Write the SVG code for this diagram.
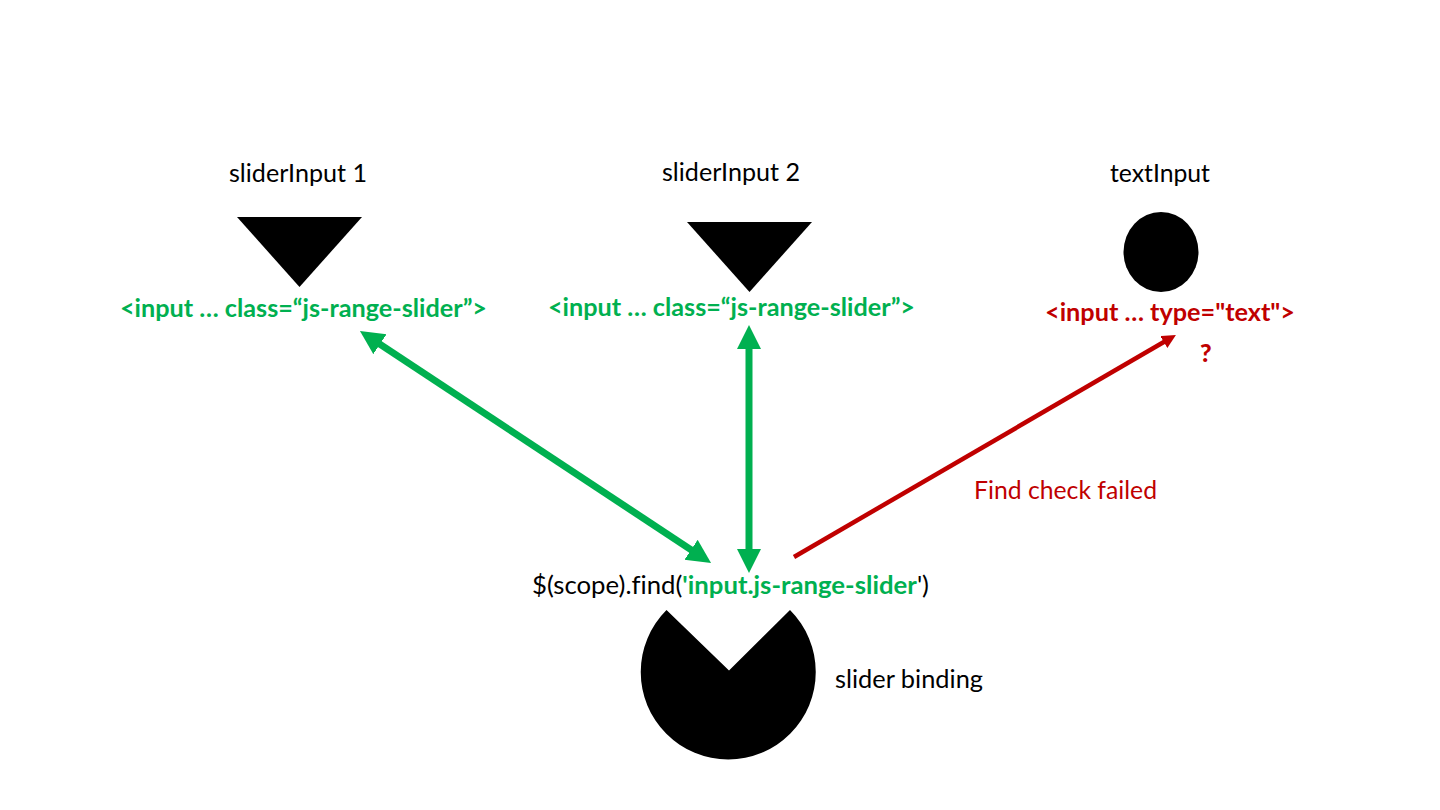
<svg xmlns="http://www.w3.org/2000/svg" width="1440" height="810" viewBox="0 0 1440 810">
<style>
text{font-family:"Lato","Carlito","Liberation Sans",sans-serif;font-size:25px;font-variant-ligatures:none;fill:#000}
.g{fill:#00b050;font-weight:700}
.r{fill:#c00000;font-weight:700}
.q{fill:#c00000;font-weight:900}
.rn{fill:#c00000}
.gl{stroke:#00b050;stroke-width:7;fill:none}
.rl{stroke:#c00000;stroke-width:4.5;fill:none}
</style>
<defs>
<marker id="gh" markerUnits="userSpaceOnUse" markerWidth="26" markerHeight="26" refX="2" refY="12" orient="auto-start-reverse"><path d="M0 0L24 12L0 24Z" fill="#00b050"/></marker>
<marker id="rh" markerUnits="userSpaceOnUse" markerWidth="16" markerHeight="16" refX="1" refY="7" orient="auto"><path d="M0 0L14 7L0 14Z" fill="#c00000"/></marker>
</defs>
<rect width="1440" height="810" fill="#fff"/>
<g id="connectors">
<line class="gl" x1="378.3" y1="343.1" x2="692.7" y2="550.9" marker-start="url(#gh)" marker-end="url(#gh)"/>
<line class="gl" x1="749" y1="347" x2="749" y2="551" marker-start="url(#gh)" marker-end="url(#gh)"/>
<line class="rl" x1="794" y1="557" x2="1164.7" y2="341.5" marker-end="url(#rh)"/>
</g>
<g id="sliderInput1">
<text x="229" y="182" textLength="138" lengthAdjust="spacingAndGlyphs">sliderInput 1</text>
<path d="M237 217H362L299.500 287Z"/>
<text class="g" x="120" y="317" textLength="367" lengthAdjust="spacingAndGlyphs">&lt;input … class=“js-range-slider”&gt;</text>
</g>
<g id="sliderInput2">
<text x="662" y="181" textLength="138" lengthAdjust="spacingAndGlyphs">sliderInput 2</text>
<path d="M687 222H812L749.500 292Z"/>
<text class="g" x="548" y="316" textLength="367" lengthAdjust="spacingAndGlyphs">&lt;input … class=“js-range-slider”&gt;</text>
</g>
<g id="textInput">
<text x="1110" y="182" textLength="100" lengthAdjust="spacingAndGlyphs">textInput</text>
<ellipse cx="1161" cy="252" rx="37.500" ry="40"/>
<text class="r" x="1045" y="321" textLength="250" lengthAdjust="spacingAndGlyphs">&lt;input … type="text"&gt;</text>
<text class="q" x="1200" y="362">?</text>
</g>
<g id="findCheck">
<text class="rn" x="974" y="499" textLength="183" lengthAdjust="spacingAndGlyphs">Find check failed</text>
</g>
<g id="sliderBinding">
<text x="532" y="594" textLength="397" lengthAdjust="spacingAndGlyphs">$(scope).find(<tspan class="g">'input.js-range-slider</tspan>')</text>
<path d="M729 670.500L666.500 610A87.500 87.500 0 1 0 790 610Z"/>
<text x="835" y="688" textLength="148" lengthAdjust="spacingAndGlyphs">slider binding</text>
</g>
</svg>
